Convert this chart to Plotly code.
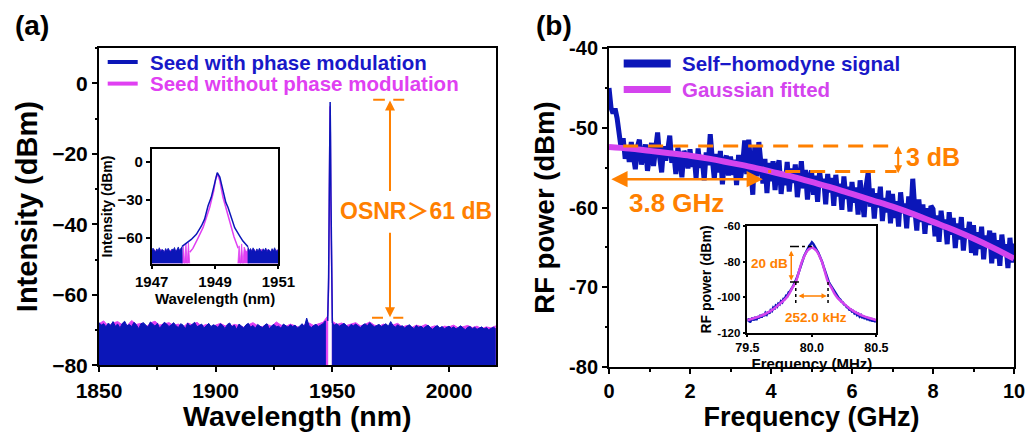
import numpy as np
import plotly.graph_objects as go

# ---------------- DATA ----------------
# (a) main spectrum: noise floor (blue, 1 nm steps), (magenta, 2 nm steps)
a_blue_left_start, a_blue_step = 1850, 1.0
a_blue_left = [-67.9, -68.6, -68.2, -69.1, -68.0, -68.7, -67.6, -68.9, -68.3, -69.4,
               -68.1, -67.5, -68.8, -68.4, -69.0, -67.8, -68.5, -69.6, -68.2, -67.9,
               -68.7, -69.2, -67.7, -68.4, -68.9, -68.1, -69.5, -68.6, -67.8, -68.3,
               -69.0, -68.5, -67.9, -68.8, -69.3, -68.2, -68.6, -69.7, -68.0, -68.9,
               -68.4, -67.8, -69.1, -68.6, -68.3, -69.4, -68.7, -68.1, -69.0, -68.5,
               -68.8, -69.3, -68.2, -68.7, -69.6, -68.4, -68.0, -69.1, -68.6, -69.8,
               -68.3, -68.9, -69.4, -68.5, -68.1, -69.2, -68.7, -69.5, -68.4, -68.9,
               -69.3, -68.6, -68.2, -69.7, -68.8, -68.4, -69.1, -68.9, -69.5, -68.3,
               -68.7, -69.2, -68.5, -69.0, -68.6, -69.4, -68.9, -68.2, -69.1, -66.6,
               -68.8, -69.3, -68.7, -68.4, -69.0, -68.6, -68.2, -67.4]
a_blue_right_start = 1950
a_blue_right = [-68.0, -68.6, -68.2, -68.9, -68.5, -68.1, -68.7, -69.2, -68.4, -68.8,
                -68.3, -68.9, -69.3, -68.6, -68.2, -68.8, -67.9, -68.5, -69.1, -68.7,
                -68.4, -69.0, -68.6, -68.2, -68.9, -67.6, -68.7, -69.2, -68.5, -69.0,
                -68.8, -69.4, -68.9, -68.5, -69.1, -69.6, -68.7, -69.2, -68.9, -69.5,
                -69.0, -68.6, -69.3, -69.8, -69.1, -68.7, -69.4, -69.0, -69.6, -69.2,
                -68.9, -69.5, -69.1, -69.7, -69.3, -68.8, -69.4, -69.9, -69.2, -69.0,
                -69.6, -69.2, -69.8, -69.4, -69.1, -69.7, -69.3, -69.9, -69.5, -69.2,
                -69.6]
a_mag_step = 2.0
a_mag_left = [-68.2, -67.4, -68.9, -68.0, -67.6, -68.5, -68.8, -67.3, -68.4, -68.1,
              -69.3, -68.0, -67.5, -68.6, -68.2, -67.9, -68.7, -68.3, -69.2, -68.0,
              -68.5, -67.8, -68.9, -68.4, -69.4, -68.6, -68.1, -68.8, -69.0, -68.4,
              -68.7, -69.2, -68.5, -67.9, -68.8, -69.1, -68.4, -68.9, -67.7, -68.6,
              -69.0, -68.3, -68.8, -69.3, -68.5, -68.0, -68.7, -68.2, -67.8, -66.0]
a_mag_right = [-67.5, -68.4, -68.0, -68.7, -68.2, -67.9, -68.8, -68.4, -67.7, -68.6,
               -68.9, -68.3, -69.0, -68.5, -68.1, -69.1, -68.7, -69.3, -68.6, -69.0,
               -68.4, -69.2, -68.8, -69.5, -68.9, -69.1, -68.6, -69.4, -69.0, -68.7,
               -69.3, -68.9, -69.6, -69.1, -69.4, -68.8]
a_blue_peak_x = [1948.0, 1948.4, 1948.7, 1948.9, 1949.05, 1949.2, 1949.4, 1949.7, 1950.0]
a_blue_peak_y = [-67.4, -55.0, -30.0, -14.0, -5.3, -14.0, -32.0, -55.0, -68.0]
a_mag_peak_x = [1948.0, 1948.4, 1948.7, 1948.9, 1949.0, 1949.15, 1949.35, 1949.6, 1950.0]
a_mag_peak_y = [-66.0, -58.0, -33.0, -16.0, -6.5, -16.0, -35.0, -58.0, -67.5]

# (a) inset
ia_step = 0.04
ia_blue_left_start = 1947.0
ia_blue_left = [-70.2, -67.8, -69.5, -71.0, -68.4, -69.9, -67.5, -70.6, -68.9, -69.3,
                -71.2, -68.1, -70.0, -67.9, -69.6, -70.8, -68.5, -69.2, -67.3, -70.4,
                -68.8, -66.9, -69.7, -67.6, -66.5]
ia_blue_right_start = 1950.04
ia_blue_right = [-67.2, -69.8, -68.1, -70.5, -67.6, -69.3, -71.0, -68.4, -70.2, -67.9,
                 -69.6, -70.9, -68.3, -69.9, -67.7, -70.6, -68.8, -69.4, -71.1, -68.2,
                 -70.0, -67.5, -69.7, -70.4, -68.6]
ia_blue_curve_x = [1947.96, 1948.1, 1948.25, 1948.41, 1948.57, 1948.67, 1948.73, 1948.78, 1948.88,
                   1948.96, 1949.02, 1949.07, 1949.15, 1949.25, 1949.34, 1949.41, 1949.52, 1949.62,
                   1949.78, 1949.88, 1950.04]
ia_blue_curve_y = [-66.5, -64.0, -61.0, -57.0, -50.4, -45.0, -39.5, -34.4, -27.8,
                   -19.9, -11.9, -8.4, -11.9, -22.5, -31.8, -35.8, -43.8, -51.7,
                   -58.3, -62.3, -66.8]
ia_mag_left_start = 1947.0
ia_mag_left = [-69.6, -70.8, -68.9, -70.1, -71.3, -69.2, -70.5, -68.6, -70.9, -69.7,
               -71.0, -69.0, -70.3, -68.7, -70.6, -69.4, -71.2, -68.8, -70.0, -69.5,
               -70.7, -68.4, -69.8, -68.2, -80.0, -66.5, -80.0, -64.0, -80.0, -63.5, -80.0]
ia_mag_right_start = 1949.72
ia_mag_right = [-80.0, -66.0, -80.0, -64.5, -80.0, -67.0, -69.5, -70.8, -68.6, -70.2,
                -71.1, -69.0, -70.5, -68.8, -70.9, -69.6, -71.3, -69.1, -70.4, -68.5,
                -70.7, -69.3, -71.0, -68.9, -70.1, -69.8, -71.2, -68.7, -70.3, -69.5,
                -70.8, -69.0, -70.0]
ia_mag_curve_x = [1948.2, 1948.3, 1948.45, 1948.62, 1948.75, 1948.83, 1948.96, 1949.02, 1949.07,
                  1949.15, 1949.25, 1949.34, 1949.43, 1949.52, 1949.6, 1949.73]
ia_mag_curve_y = [-71.0, -68.0, -60.5, -51.7, -42.0, -35.8, -22.5, -13.2, -9.3,
                  -14.6, -27.8, -35.8, -44.0, -51.7, -59.0, -68.0]

# (b) main: self-homodyne signal, 0.05 GHz steps
b_step = 0.05
b_signal = [-45.0, -47.5, -48.2, -47.6, -48.8, -50.4, -52.6, -51.3, -53.9, -52.2,
            -54.3, -51.8, -53.1, -55.2, -52.4, -51.5, -54.6, -53.0, -52.1, -55.4,
            -53.3, -51.9, -54.8, -52.6, -50.6, -53.7, -55.6, -52.3, -54.1, -52.8,
            -51.0, -54.4, -53.2, -55.8, -52.5, -54.0, -56.2, -52.9, -53.6, -55.1,
            -52.7, -54.9, -53.4, -56.3, -52.6, -55.0, -53.8, -56.6, -53.1, -54.7,
            -50.8, -53.9, -56.4, -53.3, -55.6, -52.9, -57.1, -54.2, -53.5, -56.0,
            -53.6, -55.9, -54.0, -57.2, -53.4, -56.3, -54.6, -51.6, -55.8, -51.5,
            -54.9, -58.4, -52.3, -56.1, -51.8, -55.4, -57.0, -53.9, -58.2, -54.4,
            -56.7, -54.2, -57.8, -55.0, -54.1, -58.3, -55.6, -57.2, -54.3, -58.0,
            -55.1, -56.9, -54.6, -58.7, -55.7, -54.2, -57.6, -55.3, -59.0, -56.2,
            -55.4, -58.4, -56.0, -59.3, -55.5, -57.5, -56.4, -59.6, -55.8, -58.1,
            -56.3, -59.8, -55.9, -58.6, -57.0, -60.3, -56.1, -58.9, -57.4, -60.5,
            -56.8, -59.4, -57.5, -60.9, -56.6, -58.8, -61.2, -57.3, -55.6, -59.9,
            -57.6, -61.4, -58.2, -60.0, -57.4, -61.7, -58.8, -60.6, -57.9, -62.0,
            -58.3, -61.3, -59.2, -62.4, -58.1, -60.7, -59.5, -62.6, -58.6, -61.2,
            -56.4, -60.2, -62.9, -59.0, -61.8, -59.6, -63.3, -60.1, -62.2, -59.8,
            -60.2, -63.6, -61.0, -64.3, -60.4, -62.7, -61.5, -64.6, -60.6, -63.4,
            -61.3, -65.1, -62.0, -64.0, -61.2, -65.4, -62.6, -63.8, -61.8, -65.7,
            -62.2, -66.0, -63.1, -65.2, -62.4, -66.5, -63.5, -64.9, -62.9, -67.0,
            -63.2, -66.4, -64.1, -67.3, -63.4, -65.8, -64.6, -67.6, -63.8, -66.9,
            -64.5]
b_fit_x = [0, 0.5, 1, 1.5, 2, 2.5, 3, 3.5, 4, 4.5, 5, 5.5, 6, 6.5, 7, 7.5, 8, 8.5, 9, 9.5, 10]
b_fit_y = [-52.4, -52.6, -52.9, -53.2, -53.5, -53.9, -54.4, -54.9, -55.5, -56.1, -56.8,
           -57.5, -58.3, -59.1, -59.9, -60.8, -61.8, -62.8, -63.9, -65.1, -66.4]

# (b) inset: beat note, 0.01 MHz steps from 79.50
ib_start, ib_step = 79.50, 0.01
ib_signal = [-113.8, -112.0, -114.2, -112.5, -111.6, -113.1, -111.2, -112.9, -110.8, -111.9,
             -110.1, -111.5, -109.6, -110.7, -108.9, -109.8, -108.2, -109.3, -107.4, -107.9,
             -106.0, -106.9, -104.8, -105.4, -103.6, -104.1, -102.3, -102.9, -100.9, -101.0,
             -99.2, -99.4, -97.3, -96.8, -95.0, -94.3, -92.9, -91.6, -89.8, -87.7,
             -85.2, -83.1, -80.4, -78.9, -76.8, -75.2, -73.6, -72.1, -71.0, -70.2,
             -69.0, -69.8, -70.9, -72.3, -73.7, -75.0, -76.6, -78.3, -80.2, -82.6,
             -85.0, -87.4, -89.5, -91.3, -92.6, -93.9, -95.1, -96.4, -97.6, -99.0,
             -99.6, -100.8, -101.4, -102.6, -103.0, -104.2, -104.5, -105.6, -105.8, -107.0,
             -106.9, -108.1, -107.8, -109.2, -108.7, -110.1, -109.5, -111.0, -110.2, -111.8,
             -110.6, -112.3, -111.1, -112.9, -111.5, -113.4, -111.9, -113.7, -112.4, -114.0,
             -112.6]
ib_fit_x = [79.50, 79.55, 79.60, 79.65, 79.70, 79.75, 79.80, 79.825, 79.85, 79.875, 79.90,
            79.92, 79.94, 79.96, 79.98, 80.00, 80.02, 80.04, 80.06, 80.08, 80.10, 80.125,
            80.15, 80.175, 80.20, 80.25, 80.30, 80.35, 80.40, 80.45, 80.50]
ib_fit_y = [-113.0, -111.9, -110.7, -109.0, -106.8, -103.8, -100.5, -98.0, -94.5, -91.4, -85.5,
            -80.5, -77.0, -74.3, -72.8, -72.0, -72.8, -74.3, -77.0, -80.5, -85.5, -91.4,
            -94.5, -98.0, -100.5, -103.8, -106.8, -109.0, -110.7, -111.9, -113.0]

# tick labels
a_xticks = [1850, 1900, 1950, 2000]
ia_xticks = [1947, 1949, 1951]
b_yticks = [-80, -70, -60, -50, -40]
b_yticktext = ["-80", "-70", "-60", "-50", "-40"]
b_xticks = [0, 2, 4, 6, 8, 10]
ib_xticks = [79.5, 80.0, 80.5]
ib_xticktext = ["79.5", "80.0", "80.5"]
ib_yticks = [-120, -100, -80, -60]
ib_yticktext = ["-120", "-100", "-80", "-60"]

# ---------------- STYLE / LAYOUT ----------------
FONT = "Liberation Sans, Arial, sans-serif"
FONT_CJK = "Liberation Sans, Arial, Noto Sans CJK SC, sans-serif"
BLUE = "#0b16b8"
MAG = "#e040f2"
MAG_B = "#d444ee"
ORANGE = "#ff8000"
LEG_BLUE = "#1818c8"

W, H = 1035, 432
ML, MR, MT, MB = 99.3, 20.7, 47.7, 65.3
PW, PH = W - ML - MR, H - MT - MB


def px(x):
    return (x - ML) / PW


def py(y):
    return (H - MB - y) / PH


def poly(x0, step, ys, base=-80.0):
    xs = list(x0 + step * np.arange(len(ys)))
    return [xs[0]] + xs + [xs[-1]], [base] + list(ys) + [base]


fig = go.Figure()

# panel (a) main
for (x0, step, ys) in [(a_blue_left_start, a_mag_step, a_mag_left), (a_blue_right_start, a_mag_step, a_mag_right)]:
    xs, yy = poly(x0, step, ys)
    fig.add_trace(go.Scatter(x=xs, y=yy, mode="lines", fill="toself", fillcolor=MAG,
                             line=dict(color=MAG, width=1), showlegend=False, xaxis="x", yaxis="y"))
fig.add_trace(go.Scatter(x=a_mag_peak_x, y=a_mag_peak_y, mode="lines", line=dict(color=MAG, width=1.5),
                         showlegend=False, xaxis="x", yaxis="y"))
for (x0, step, ys) in [(a_blue_left_start, a_blue_step, a_blue_left), (a_blue_right_start, a_blue_step, a_blue_right)]:
    xs, yy = poly(x0, step, ys)
    fig.add_trace(go.Scatter(x=xs, y=yy, mode="lines", fill="toself", fillcolor=BLUE,
                             line=dict(color=BLUE, width=1), showlegend=False, xaxis="x", yaxis="y"))
fig.add_trace(go.Scatter(x=a_blue_peak_x, y=a_blue_peak_y, mode="lines", line=dict(color=BLUE, width=1.5),
                         showlegend=False, xaxis="x", yaxis="y"))

# panel (a) inset
for (x0, ys) in [(ia_mag_left_start, ia_mag_left), (ia_mag_right_start, ia_mag_right)]:
    xs, yy = poly(x0, ia_step, ys)
    fig.add_trace(go.Scatter(x=xs, y=yy, mode="lines", fill="toself", fillcolor=MAG,
                             line=dict(color=MAG, width=0.8), showlegend=False, xaxis="x2", yaxis="y2"))
fig.add_trace(go.Scatter(x=ia_mag_curve_x, y=ia_mag_curve_y, mode="lines", line=dict(color=MAG, width=1.5),
                         showlegend=False, xaxis="x2", yaxis="y2"))
for (x0, ys) in [(ia_blue_left_start, ia_blue_left), (ia_blue_right_start, ia_blue_right)]:
    xs, yy = poly(x0, ia_step, ys)
    fig.add_trace(go.Scatter(x=xs, y=yy, mode="lines", fill="toself", fillcolor=BLUE,
                             line=dict(color=BLUE, width=0.8), showlegend=False, xaxis="x2", yaxis="y2"))
fig.add_trace(go.Scatter(x=ia_blue_curve_x, y=ia_blue_curve_y, mode="lines", line=dict(color=BLUE, width=1.5),
                         showlegend=False, xaxis="x2", yaxis="y2"))

# panel (b) main
fig.add_trace(go.Scatter(x=list(b_step * np.arange(len(b_signal))), y=b_signal, mode="lines",
                         line=dict(color=BLUE, width=5), showlegend=False, xaxis="x3", yaxis="y3"))
fig.add_trace(go.Scatter(x=b_fit_x, y=b_fit_y, mode="lines", line=dict(color=MAG_B, width=6, shape="spline"),
                         showlegend=False, xaxis="x3", yaxis="y3"))

# panel (b) inset
fig.add_trace(go.Scatter(x=list(ib_start + ib_step * np.arange(len(ib_signal))), y=ib_signal, mode="lines",
                         line=dict(color=BLUE, width=2.5), showlegend=False, xaxis="x4", yaxis="y4"))
fig.add_trace(go.Scatter(x=ib_fit_x, y=ib_fit_y, mode="lines", line=dict(color=MAG_B, width=2.5, shape="spline"),
                         showlegend=False, xaxis="x4", yaxis="y4"))


def axis(size, dom, rng, lw=2, ticklen=5, title=None, tsize=None, standoff=None, minor=None, **kw):
    d = dict(domain=dom, range=rng, showline=True, linecolor="black", linewidth=lw, mirror=True,
             ticks="outside", ticklen=ticklen, tickwidth=lw, tickcolor="black", showgrid=False,
             zeroline=False, automargin=False,
             tickfont=dict(family=FONT, size=size, color="black", weight="bold"))
    if title:
        d["title"] = dict(text=title, font=dict(family=FONT, size=tsize, color="black", weight="bold"))
        if standoff is not None:
            d["title"]["standoff"] = standoff
    if minor:
        d["minor"] = dict(ticks="outside", ticklen=ticklen / 2, tickwidth=lw, tickcolor="black", dtick=minor, showgrid=False)
    d.update(kw)
    return d


fig.update_layout(
    width=W, height=H, margin=dict(l=ML, r=MR, t=MT, b=MB, autoexpand=False),
    plot_bgcolor="white", paper_bgcolor="white", showlegend=False,
    xaxis=axis(21, [0, px(496)], [1850, 2020], title="Wavelength (nm)", tsize=28.5, standoff=0,
               tickvals=a_xticks, minor=25, anchor="y"),
    yaxis=axis(21, [py(365), 1], [-80, 10], title="Intensity (dBm)", tsize=29, standoff=6,
               tick0=0, dtick=20, minor=10, anchor="x"),
    xaxis2=axis(15, [px(152), px(278.7)], [1947, 1951], lw=1.5, ticklen=4, title="Wavelength (nm)", tsize=15,
                standoff=2, tickvals=ia_xticks, anchor="y2"),
    yaxis2=axis(15, [py(263.3), py(149)], [-80, 10], lw=1.5, ticklen=4, title="Intensity (dBm)", tsize=14,
                standoff=2, tick0=0, dtick=30, anchor="x2"),
    xaxis3=axis(20, [px(609.3), 1], [0, 10], title="Frequency (GHz)", tsize=27, standoff=0,
                tickvals=b_xticks, minor=1, anchor="y3"),
    yaxis3=axis(20, [0, 1], [-80, -40], title="RF power (dBm)", tsize=27.5, standoff=6,
                tickvals=b_yticks, ticktext=b_yticktext, minor=5, anchor="x3"),
    xaxis4=axis(12.5, [px(747.7), px(876.7)], [79.5, 80.5], lw=1.5, ticklen=3, title="Frequency (MHz)", tsize=15,
                standoff=0, tickvals=ib_xticks, ticktext=ib_xticktext, anchor="y4"),
    yaxis4=axis(11.5, [py(332.3), py(226)], [-120, -60], lw=1.5, ticklen=3, title="RF power (dBm)", tsize=14,
                standoff=2, tickvals=ib_yticks, ticktext=ib_yticktext, anchor="x4"),
)

ann = []
shapes = []


def text(x, y, s, size, color, xref="paper", yref="paper", xanchor="center", yanchor="middle", family=FONT):
    ann.append(dict(x=x, y=y, xref=xref, yref=yref, text=s, showarrow=False, xanchor=xanchor, yanchor=yanchor,
                    font=dict(family=family, size=size, color=color, weight="bold")))


def arrow(xr, yr, x0, y0, x1, y1, both=False, width=2, size=1.0, head=2):
    ann.append(dict(xref=xr, yref=yr, axref=xr, ayref=yr, x=x1, y=y1, ax=x0, ay=y0, text="", showarrow=True,
                    arrowhead=head, startarrowhead=head, arrowside="end+start" if both else "end",
                    arrowwidth=width, arrowsize=size, startarrowsize=size, arrowcolor=ORANGE, standoff=0,
                    startstandoff=0))


def seg(xr, yr, x0, y0, x1, y1, color, width, dash="solid"):
    shapes.append(dict(type="line", xref=xr, yref=yr, x0=x0, y0=y0, x1=x1, y1=y1,
                       line=dict(color=color, width=width, dash=dash)))


# panel labels
text(px(32), py(25), "(a)", 28, "black")
text(px(554), py(25), "(b)", 28, "black")

# legends (a)
seg("paper", "paper", px(108), py(61.7), px(138), py(61.7), BLUE, 4)
seg("paper", "paper", px(108), py(83.3), px(138), py(83.3), MAG, 4)
text(px(148), py(61.7), "Seed with phase modulation", 20.5, LEG_BLUE, xanchor="left")
text(px(148), py(83.3), "Seed without phase modulation", 20.5, MAG, xanchor="left")

# legends (b)
seg("paper", "paper", px(624), py(63.3), px(671), py(63.3), BLUE, 8)
seg("paper", "paper", px(624), py(89.3), px(671), py(89.3), MAG_B, 7)
text(px(680), py(63.3), "Self\u2212homodyne signal", 20.5, LEG_BLUE, xanchor="left")
text(px(680), py(89.3), "Gaussian fitted", 20.5, MAG_B, xanchor="left")

# (a) OSNR annotation
arrow("x", "y", 1974.7, -31.0, 1974.7, -4.9)
arrow("x", "y", 1974.7, -42.0, 1974.7, -66.4)
seg("x", "y", 1967.5, -4.7, 1972.5, -4.7, ORANGE, 2)
seg("x", "y", 1976.1, -4.7, 1980.8, -4.7, ORANGE, 2)
seg("x", "y", 1967.0, -66.5, 1971.7, -66.5, ORANGE, 2)
seg("x", "y", 1976.1, -66.5, 1980.4, -66.5, ORANGE, 2)
text(1985.7, -36.3, "OSNR\uff1e61 dB", 23, ORANGE, xref="x", yref="y", family=FONT_CJK)

# (b) 3 dB bandwidth annotation
seg("x3", "y3", 0.35, -52.3, 7.1, -52.3, ORANGE, 3, dash="15px,10px")
seg("x3", "y3", 3.93, -55.5, 7.1, -55.5, ORANGE, 3, dash="3px,14px,15px,10px,15px,10px,15px,10px,15px,10px,15px,10px,15px,10px")
arrow("x3", "y3", 7.14, -52.1, 7.14, -55.7, both=True, width=2, size=0.8)
text(8.0, -53.7, "3 dB", 25, ORANGE, xref="x3", yref="y3")
arrow("x3", "y3", 0.02, -56.45, 3.8, -56.45, both=True, width=2.5, size=1.3)
text(1.66, -59.4, "3.8 GHz", 26, ORANGE, xref="x3", yref="y3")

# (b) inset annotations
seg("x4", "y4", 79.83, -71.4, 80.0, -71.4, "black", 1.5, dash="dashdot")
seg("x4", "y4", 79.83, -91.4, 79.9, -91.4, "black", 1.5, dash="dashdot")
seg("x4", "y4", 79.875, -91.4, 79.875, -103.5, "black", 1.5, dash="dot")
seg("x4", "y4", 80.125, -91.4, 80.125, -103.5, "black", 1.5, dash="dot")
arrow("x4", "y4", 79.84, -73.0, 79.84, -90.6, both=True, width=1.5, size=0.7)
arrow("x4", "y4", 79.885, -99.3, 80.115, -99.3, both=True, width=1.5, size=0.7)
text(79.67, -81.0, "20 dB", 13.5, ORANGE, xref="x4", yref="y4")
text(80.035, -111.7, "252.0 kHz", 13.5, ORANGE, xref="x4", yref="y4")

fig.update_layout(annotations=ann, shapes=shapes)
fig.write_html("out.html", config={"displayModeBar": False},
               post_script="document.body.style.margin='0px';document.body.style.padding='0px';document.body.style.overflow='hidden';")
